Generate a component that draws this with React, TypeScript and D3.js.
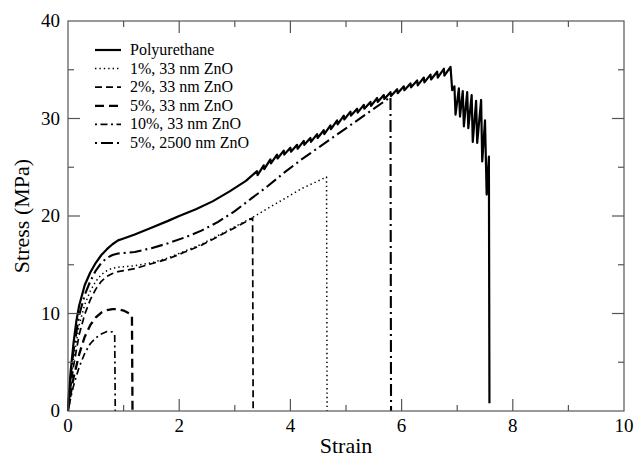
import React, { useEffect, useRef } from "react";
import * as d3 from "d3";

const W = 639;
const H = 459;
const margin = { left: 68, right: 15, top: 21, bottom: 48 };

const xMajor = [0, 2, 4, 6, 8, 10];
const xMinor = [1, 3, 5, 7, 9];
const yMajor = [0, 10, 20, 30, 40];
const yMinor = [5, 15, 25, 35];

// strain, stress (MPa)
const polyurethane: [number, number][] = [
  [0, 0.5], [0.05, 4.2], [0.1, 7.0], [0.15, 9.2], [0.2, 10.8], [0.3, 12.9], [0.4, 14.2],
  [0.5, 15.2], [0.6, 16.0], [0.7, 16.6], [0.8, 17.1], [0.9, 17.5], [1.0, 17.7], [1.2, 18.1],
  [1.5, 18.8], [1.8, 19.5], [2.0, 20.0], [2.3, 20.7], [2.6, 21.5], [2.9, 22.5], [3.2, 23.6],
  [3.4, 24.6], [3.41, 24.2], [3.52, 25.2], [3.53, 24.8], [3.64, 25.8], [3.65, 25.4],
  [3.76, 26.3], [3.77, 25.9], [3.88, 26.7], [3.89, 26.3], [4.0, 27.0], [4.01, 26.6],
  [4.12, 27.3], [4.13, 26.9], [4.24, 27.7], [4.25, 27.3], [4.36, 28.0], [4.37, 27.6],
  [4.48, 28.4], [4.49, 28.0], [4.6, 28.8], [4.61, 28.4], [4.72, 29.3], [4.73, 28.9],
  [4.84, 29.8], [4.85, 29.4], [4.96, 30.3], [4.97, 29.9], [5.08, 30.7], [5.09, 30.3],
  [5.2, 31.0], [5.21, 30.6], [5.32, 31.4], [5.33, 31.0], [5.44, 31.7], [5.45, 31.3],
  [5.56, 32.1], [5.57, 31.7], [5.68, 32.4], [5.69, 32.0], [5.8, 32.7], [5.81, 32.3],
  [5.92, 33.0], [5.93, 32.6], [6.04, 33.3], [6.05, 32.9], [6.16, 33.6], [6.17, 33.2],
  [6.28, 33.9], [6.29, 33.4], [6.4, 34.2], [6.41, 33.7], [6.52, 34.5], [6.53, 34.0],
  [6.64, 34.8], [6.65, 34.2], [6.76, 35.1], [6.77, 34.4], [6.88, 35.3],
  [6.91, 32.9], [6.95, 33.3], [6.97, 30.4], [7.03, 33.1], [7.05, 30.2], [7.1, 32.8],
  [7.12, 29.2], [7.18, 32.7], [7.2, 29.0], [7.26, 32.4], [7.28, 27.6], [7.34, 31.8],
  [7.36, 27.5], [7.43, 31.9], [7.45, 25.6], [7.5, 29.8], [7.53, 22.2], [7.57, 26.1],
  [7.58, 0.8],
];

const zno1: [number, number][] = [
  [0, 0.3], [0.05, 3.0], [0.1, 5.4], [0.2, 8.8], [0.3, 10.9], [0.4, 12.3], [0.5, 13.3],
  [0.6, 14.0], [0.7, 14.4], [0.8, 14.65], [0.9, 14.75], [1.0, 14.8], [1.2, 14.9], [1.5, 15.2],
  [1.8, 15.7], [2.1, 16.4], [2.4, 17.1], [2.7, 18.0], [3.0, 18.9], [3.3, 19.8], [3.6, 20.8],
  [3.9, 21.8], [4.2, 22.8], [4.5, 23.6], [4.65, 24.0], [4.66, 0],
];

const zno2: [number, number][] = [
  [0, 0], [0.05, 2.5], [0.1, 4.6], [0.2, 7.8], [0.3, 9.9], [0.4, 11.4], [0.5, 12.5],
  [0.6, 13.3], [0.7, 13.8], [0.8, 14.1], [0.9, 14.3], [1.0, 14.4], [1.2, 14.6], [1.5, 15.1],
  [1.8, 15.6], [2.1, 16.3], [2.4, 17.0], [2.7, 17.9], [3.0, 18.8], [3.32, 19.8], [3.33, 0],
];

const zno5: [number, number][] = [
  [0, 0], [0.05, 1.8], [0.1, 3.4], [0.2, 5.8], [0.3, 7.6], [0.4, 8.8], [0.5, 9.6],
  [0.6, 10.1], [0.7, 10.35], [0.8, 10.45], [0.9, 10.45], [1.0, 10.3], [1.1, 10.0],
  [1.15, 9.8], [1.16, 0],
];

const zno10: [number, number][] = [
  [0, 0], [0.05, 1.4], [0.1, 2.6], [0.2, 4.5], [0.3, 5.9], [0.4, 6.9], [0.5, 7.5],
  [0.6, 7.9], [0.7, 8.15], [0.8, 8.1], [0.84, 7.8], [0.85, 0],
];

const zno5Large: [number, number][] = [
  [0, 0.3], [0.05, 3.6], [0.1, 6.2], [0.2, 9.8], [0.3, 11.9], [0.4, 13.3], [0.5, 14.4],
  [0.6, 15.2], [0.7, 15.7], [0.8, 16.0], [0.9, 16.15], [1.0, 16.2], [1.2, 16.3], [1.5, 16.7],
  [1.8, 17.2], [2.1, 17.8], [2.4, 18.5], [2.7, 19.4], [3.0, 20.5], [3.3, 21.8], [3.6, 23.1],
  [3.9, 24.5], [4.2, 25.8], [4.5, 27.0], [4.8, 28.2], [5.1, 29.4], [5.4, 30.6], [5.8, 32.2],
  [5.81, 0],
];

const labels = [
  "Polyurethane",
  "1%, 33 nm ZnO",
  "2%, 33 nm ZnO",
  "5%, 33 nm ZnO",
  "10%, 33 nm ZnO",
  "5%, 2500 nm ZnO",
];
const datasets = [polyurethane, zno1, zno2, zno5, zno10, zno5Large];

const styles = [
  { dash: "none", width: 2.2 },
  { dash: "1.4 3", width: 1.5 },
  { dash: "7 4", width: 1.7 },
  { dash: "9 5", width: 2.3 },
  { dash: "2 3.5 7 3.5", width: 1.7 },
  { dash: "2 4 12 4", width: 2.1 },
];

const FONT = "Liberation Serif, Nimbus Roman, Times New Roman, DejaVu Serif, serif";
const AXIS = "#555";

export default function App() {
  const ref = useRef<SVGSVGElement | null>(null);

  useEffect(() => {
    const svg = d3.select(ref.current);
    svg.selectAll("*").remove();

    const x = d3.scaleLinear().domain([0, 10]).range([margin.left, W - margin.right]);
    const y = d3.scaleLinear().domain([0, 40]).range([H - margin.bottom, margin.top]);
    const [x0, x1] = x.range();
    const [yb, yt] = y.range();

    const line = d3
      .line<[number, number]>()
      .x((d) => x(d[0]))
      .y((d) => y(d[1]));

    // curves, polyurethane last so it sits on top
    const order = [1, 2, 3, 4, 5, 0];
    order.forEach((i) => {
      svg
        .append("path")
        .attr("d", line(datasets[i]))
        .attr("fill", "none")
        .attr("stroke", "#000")
        .attr("stroke-width", styles[i].width)
        .attr("stroke-dasharray", styles[i].dash)
        .attr("stroke-linejoin", "round");
    });

    // frame
    svg
      .append("rect")
      .attr("x", x0)
      .attr("y", yt)
      .attr("width", x1 - x0)
      .attr("height", yb - yt)
      .attr("fill", "none")
      .attr("stroke", AXIS)
      .attr("stroke-width", 1.2);

    const ticks = svg.append("g").attr("stroke", AXIS).attr("stroke-width", 1.2);
    const tick = (xa: number, ya: number, xb: number, yb2: number) =>
      ticks.append("line").attr("x1", xa).attr("y1", ya).attr("x2", xb).attr("y2", yb2);

    xMajor.slice(1, -1).forEach((v) => {
      tick(x(v), yb, x(v), yb - 12);
      tick(x(v), yt, x(v), yt + 12);
    });
    xMinor.forEach((v) => {
      tick(x(v), yb, x(v), yb - 6);
      tick(x(v), yt, x(v), yt + 6);
    });
    yMajor.slice(1, -1).forEach((v) => {
      tick(x0, y(v), x0 + 12, y(v));
      tick(x1, y(v), x1 - 12, y(v));
    });
    yMinor.forEach((v) => {
      tick(x0, y(v), x0 + 6, y(v));
      tick(x1, y(v), x1 - 6, y(v));
    });

    const text = (sel: d3.Selection<any, any, any, any>, size: number) =>
      sel.style("font-family", FONT).style("font-size", `${size}px`);

    // tick labels
    svg
      .append("g")
      .selectAll("text")
      .data(xMajor)
      .join("text")
      .attr("x", (d) => x(d))
      .attr("y", yb + 21)
      .attr("text-anchor", "middle")
      .call(text, 19)
      .text((d) => d);

    svg
      .append("g")
      .selectAll("text")
      .data(yMajor)
      .join("text")
      .attr("x", x0 - 8)
      .attr("y", (d) => y(d) + 6)
      .attr("text-anchor", "end")
      .call(text, 19)
      .text((d) => d);

    // axis titles
    svg
      .append("text")
      .attr("x", (x0 + x1) / 2)
      .attr("y", H - 6)
      .attr("text-anchor", "middle")
      .call(text, 22)
      .text("Strain");

    svg
      .append("text")
      .attr("transform", `translate(29,${(yb + yt) / 2}) rotate(-90)`)
      .attr("text-anchor", "middle")
      .call(text, 22)
      .text("Stress (MPa)");

    // legend
    const legend = svg.append("g");
    labels.forEach((lab, i) => {
      const ly = 50 + i * 18.6;
      legend
        .append("line")
        .attr("x1", 95)
        .attr("x2", 121)
        .attr("y1", ly)
        .attr("y2", ly)
        .attr("stroke", "#000")
        .attr("stroke-width", styles[i].width)
        .attr("stroke-dasharray", styles[i].dash);
      legend
        .append("text")
        .attr("x", 130)
        .attr("y", ly + 5)
        .call(text, 16)
        .text(lab);
    });
  }, []);

  return (
    <svg
      ref={ref}
      width={W}
      height={H}
      style={{ position: "absolute", left: 0, top: 0, background: "#fff" }}
    />
  );
}
